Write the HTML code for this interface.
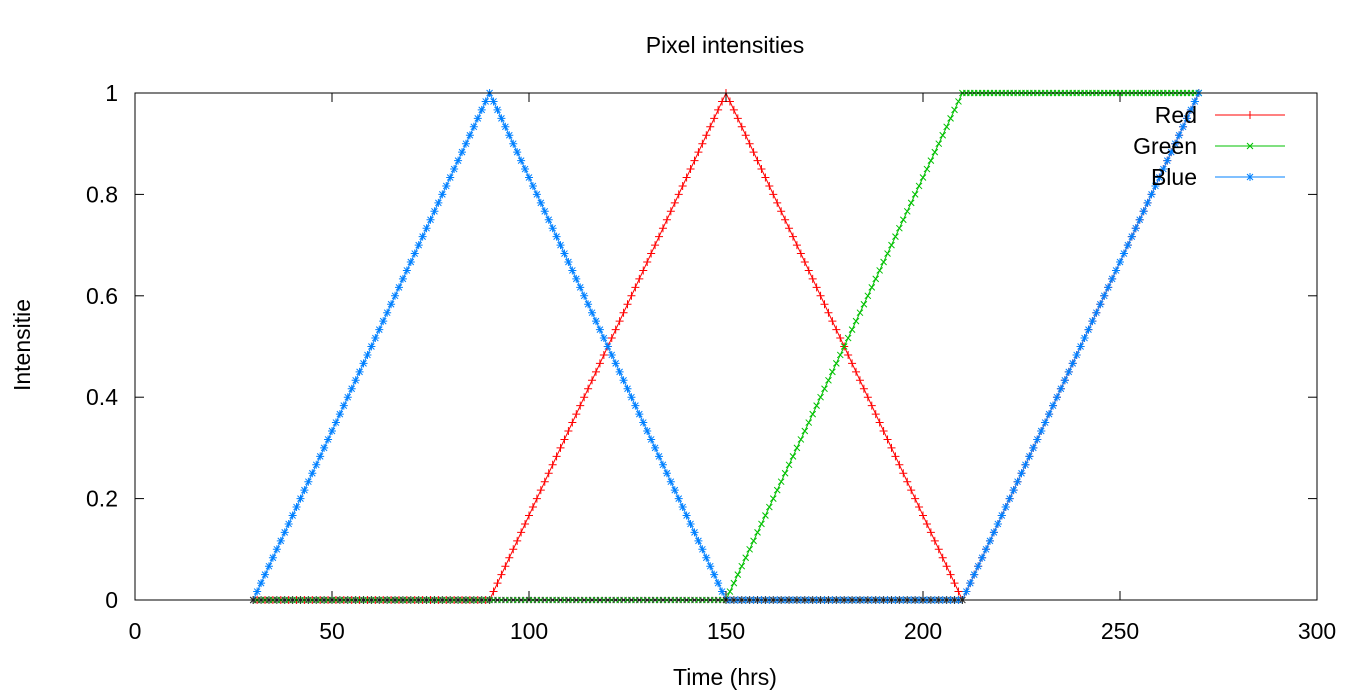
<!DOCTYPE html>
<html><head><meta charset="utf-8"><style>
html,body{margin:0;padding:0;background:#fff;}
svg{display:block;font-family:"Liberation Sans",sans-serif;}
</style></head><body>
<svg id="chart" width="1366" height="700" viewBox="0 0 1366 700" xmlns="http://www.w3.org/2000/svg">
<text x="725" y="53" font-size="23" text-anchor="middle">Pixel intensities</text>
<text x="725" y="685" font-size="23" text-anchor="middle">Time (hrs)</text>
<text transform="translate(30,345) rotate(-90)" font-size="23" text-anchor="middle">Intensitie</text>
<g id="series"></g>
<rect x="135" y="93" width="1182" height="507" fill="none" stroke="#000" stroke-width="1"/>
<g id="axes"></g>
<g id="legend"></g>
</svg>
<script>
const xTicks=[0,50,100,150,200,250,300];
const yTicks=[0,0.2,0.4,0.6,0.8,1];
const yTickLabels=["0","0.2","0.4","0.6","0.8","1"];
const redTimes=[30,90,150,210,270];
const redValues=[0,0,1,0,1];
const greenTimes=[30,150,210,270];
const greenValues=[0,0,1,1];
const blueTimes=[30,90,150,210,270];
const blueValues=[0,1,0,0,1];
const seriesNames=["Red","Green","Blue"];

const X0=135,X1=1317,Y0=600,Y1=93;
const xs=v=>X0+(v-0)/(300-0)*(X1-X0);
const ys=v=>Y0-(v-0)/(1-0)*(Y0-Y1);
const NS="http://www.w3.org/2000/svg";
function mk(tag,attrs,parent){const e=document.createElementNS(NS,tag);for(const k in attrs)e.setAttribute(k,attrs[k]);parent.appendChild(e);return e;}
const axes=document.getElementById('axes');
xTicks.forEach(t=>{
  const x=xs(t);
  const a=mk('line',{x1:x,x2:x,y1:Y0,y2:Y0-9,stroke:'#000'},axes);
  
  
  const b=mk('line',{x1:x,x2:x,y1:Y1,y2:Y1+9,stroke:'#000'},axes);
  
  
  const l=mk('text',{x:x,y:639,'font-size':23,'text-anchor':'middle'},axes);
  l.textContent=String(t);
  
  
});
yTicks.forEach((t,i)=>{
  const y=ys(t);
  const a=mk('line',{x1:X0,x2:X0+9,y1:y,y2:y,stroke:'#000'},axes);
  
  
  const b=mk('line',{x1:X1,x2:X1-9,y1:y,y2:y,stroke:'#000'},axes);
  
  
  const l=mk('text',{x:118,y:y+8,'font-size':23,'text-anchor':'end'},axes);
  l.textContent=yTickLabels[i];
  
  
});
function marker(g,type,x,y,color){
  let d;
  if(type==='plus') d=`M${x-4},${y}H${x+4}M${x},${y-4}V${y+4}`;
  else if(type==='cross') d=`M${x-3},${y-3}L${x+3},${y+3}M${x-3},${y+3}L${x+3},${y-3}`;
  else d=`M${x-4},${y}H${x+4}M${x},${y-4}V${y+4}M${x-3},${y-3}L${x+3},${y+3}M${x-3},${y+3}L${x+3},${y-3}`;
  mk('path',{d:d,stroke:color,'stroke-width':1,fill:'none'},g);
}
function drawSeries(name,times,vals,lineColor,markColor,type){
  const g=mk('g',{},document.getElementById('series'));
  
  
  const pts=times.map((t,i)=>xs(t)+','+ys(vals[i])).join(' ');
  mk('polyline',{points:pts,fill:'none',stroke:lineColor,'stroke-width':1},g);
  for(let i=0;i<times.length-1;i++){
    const n=Math.round(times[i+1]-times[i]);
    for(let k=(i===0?0:1);k<=n;k++){
      const f=k/n;
      const t=times[i]+f*(times[i+1]-times[i]);
      const v=vals[i]+f*(vals[i+1]-vals[i]);
      marker(g,type,xs(t),ys(v),(k%2===0&&v===0)?'#333':markColor);
    }
  }
}
drawSeries('Red',redTimes,redValues,'#ff0000','#ff0000','plus');
drawSeries('Green',greenTimes,greenValues,'#00c000','#00c000','cross');
drawSeries('Blue',blueTimes,blueValues,'#0080ff','#0080ff','star');
const leg=document.getElementById('legend');
const legColors=[['#ff0000','plus'],['#00c000','cross'],['#0080ff','star']];
seriesNames.forEach((n,i)=>{
  const y=115+i*31;
  const g=mk('g',{},leg);
  
  
  const t=mk('text',{x:1197,y:y+8,'font-size':23,'text-anchor':'end'},g);
  t.textContent=n;
  mk('line',{x1:1215,x2:1285,y1:y,y2:y,stroke:legColors[i][0]},g);
  marker(g,legColors[i][1],1250,y,legColors[i][0]);
});
</script>
</body></html>
